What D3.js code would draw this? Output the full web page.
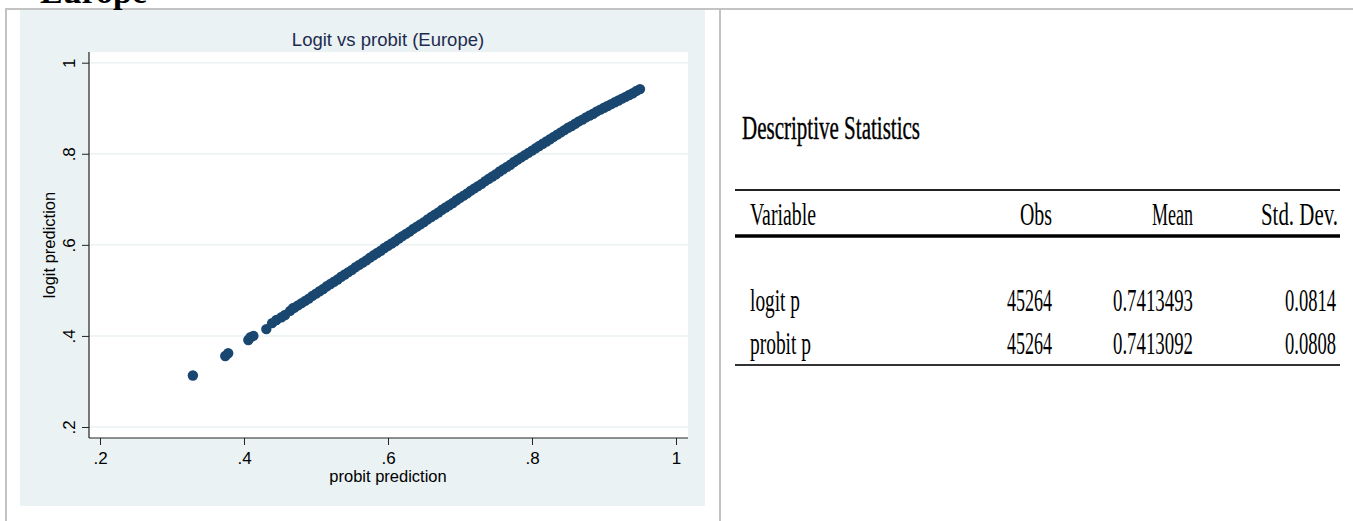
<!DOCTYPE html>
<html>
<head>
<meta charset="utf-8">
<script src="https://cdn.jsdelivr.net/npm/d3@7/dist/d3.min.js"></script>
<style>
  html, body { margin: 0; padding: 0; background: #ffffff; }
  svg { display: block; }
</style>
</head>
<body>
<svg id="chart" width="1353" height="521"></svg>
<script>
// ---------- data ----------
const probitTail = [0.329, 0.374, 0.378, 0.406, 0.409, 0.413, 0.431, 0.439, 0.445, 0.452, 0.457, 0.464, 0.468];
const logitTail  = [0.313, 0.356, 0.362, 0.391, 0.397, 0.400, 0.415, 0.428, 0.435, 0.441, 0.446, 0.455, 0.461];

const probitBand = [
  0.470,0.475,0.480,0.485,0.490,0.495,0.500,0.505,0.510,0.515,
  0.520,0.525,0.530,0.535,0.540,0.545,0.550,0.555,0.560,0.565,
  0.570,0.575,0.580,0.585,0.590,0.595,0.600,0.605,0.610,0.615,
  0.620,0.625,0.630,0.635,0.640,0.645,0.650,0.655,0.660,0.665,
  0.670,0.675,0.680,0.685,0.690,0.695,0.700,0.705,0.710,0.715,
  0.720,0.725,0.730,0.735,0.740,0.745,0.750,0.755,0.760,0.765,
  0.770,0.775,0.780,0.785,0.790,0.795,0.800,0.805,0.810,0.815,
  0.820,0.825,0.830,0.835,0.840,0.845,0.850,0.855,0.860,0.865,
  0.870,0.875,0.880,0.885,0.890,0.895,0.900,0.905,0.910,0.915,
  0.920,0.925,0.930,0.935,0.940,0.945,0.950];
const logitBand = [
  0.462,0.467,0.472,0.477,0.482,0.488,0.493,0.498,0.503,0.509,
  0.514,0.519,0.524,0.530,0.535,0.540,0.545,0.551,0.556,0.561,
  0.566,0.572,0.577,0.582,0.587,0.593,0.598,0.603,0.608,0.614,
  0.619,0.624,0.629,0.635,0.640,0.645,0.650,0.656,0.661,0.666,
  0.671,0.677,0.682,0.687,0.692,0.698,0.703,0.708,0.713,0.719,
  0.724,0.729,0.734,0.740,0.745,0.750,0.755,0.761,0.766,0.771,
  0.776,0.782,0.787,0.792,0.797,0.802,0.807,0.812,0.817,0.822,
  0.827,0.832,0.837,0.842,0.847,0.852,0.857,0.861,0.866,0.871,
  0.875,0.880,0.884,0.888,0.893,0.897,0.901,0.905,0.909,0.913,
  0.917,0.921,0.925,0.929,0.933,0.938,0.942];

const xTicks = [0.2, 0.4, 0.6, 0.8, 1];
const yTicks = [0.2, 0.4, 0.6, 0.8, 1];
const tickLabels = [".2", ".4", ".6", ".8", "1"];

const chartTitle = "Logit vs probit (Europe)";
const xTitle = "probit prediction";
const yTitle = "logit prediction";
const sectionTitle = "Europe";

// descriptive statistics table
const tableTitle = "Descriptive Statistics";
const tableHeaders = ["Variable", "Obs", "Mean", "Std. Dev."];
const tableVariables = ["logit p", "probit p"];
const tableObs = ["45264", "45264"];
const tableMeans = ["0.7413493", "0.7413092"];
const tableSDs = ["0.0814", "0.0808"];

// ---------- drawing ----------
const svg = d3.select("#chart");
const W = 1353, H = 521;

// outer table-cell borders
svg.append("line").attr("x1", 5).attr("x2", W).attr("y1", 9).attr("y2", 9)
  .attr("stroke", "#c3c3c3").attr("stroke-width", 2);
svg.append("line").attr("x1", 6).attr("x2", 6).attr("y1", 9).attr("y2", H)
  .attr("stroke", "#c3c3c3").attr("stroke-width", 2);
svg.append("line").attr("x1", 720).attr("x2", 720).attr("y1", 9).attr("y2", H)
  .attr("stroke", "#c3c3c3").attr("stroke-width", 2);

// clipped section heading
svg.append("text").attr("x", 40).attr("y", 3)
  .attr("font-family", "Liberation Serif, Times New Roman, serif")
  .attr("font-weight", "bold").attr("font-size", 34)
  .attr("fill", "#000").text(sectionTitle);

// graph panel background
svg.append("rect").attr("x", 20).attr("y", 10).attr("width", 685).attr("height", 496)
  .attr("fill", "#eaf2f3");

// plot region
const plot = { left: 89, right: 688, top: 52, bottom: 438 };
svg.append("rect").attr("x", plot.left).attr("y", plot.top)
  .attr("width", plot.right - plot.left).attr("height", plot.bottom - plot.top)
  .attr("fill", "#ffffff");

const x = d3.scaleLinear().domain([0.2, 1]).range([100, 676]);
const y = d3.scaleLinear().domain([0.2, 1]).range([427, 62.7]);

// horizontal grid lines
svg.append("g").selectAll("line").data(yTicks).join("line")
  .attr("x1", plot.left).attr("x2", plot.right)
  .attr("y1", d => y(d)).attr("y2", d => y(d))
  .attr("stroke", "#eaf2f3").attr("stroke-width", 1.5);

const font = "Liberation Sans, Arial, Helvetica, sans-serif";

// y axis
const yAxis = d3.axisLeft(y).tickValues(yTicks).tickSize(7).tickSizeOuter(0)
  .tickFormat((d, i) => tickLabels[i]);
const gy = svg.append("g").attr("transform", `translate(${plot.left},0)`).call(yAxis);
gy.select(".domain").remove();
gy.selectAll(".tick line").attr("stroke", "#222").attr("stroke-width", 1);
gy.selectAll(".tick text")
  .attr("font-family", font).attr("font-size", 17).attr("fill", "#000")
  .attr("x", null).attr("dy", null)
  .attr("text-anchor", "middle")
  .attr("transform", "translate(-14,0) rotate(-90)");
svg.append("line").attr("x1", plot.left).attr("x2", plot.left)
  .attr("y1", plot.top).attr("y2", plot.bottom).attr("stroke", "#222").attr("stroke-width", 1.2);

// x axis
const xAxis = d3.axisBottom(x).tickValues(xTicks).tickSize(7).tickSizeOuter(0)
  .tickFormat((d, i) => tickLabels[i]);
const gx = svg.append("g").attr("transform", `translate(0,${plot.bottom})`).call(xAxis);
gx.select(".domain").remove();
gx.selectAll(".tick line").attr("stroke", "#222").attr("stroke-width", 1);
gx.selectAll(".tick text")
  .attr("font-family", font).attr("font-size", 17).attr("fill", "#000")
  .attr("y", 26).attr("dy", null);
svg.append("line").attr("x1", plot.left).attr("x2", plot.right)
  .attr("y1", plot.bottom).attr("y2", plot.bottom).attr("stroke", "#222").attr("stroke-width", 1.2);

// titles
svg.append("text").attr("x", 388).attr("y", 46).attr("text-anchor", "middle")
  .attr("font-family", font).attr("font-size", 18.5).attr("fill", "#1e2b4f")
  .text(chartTitle);
svg.append("text").attr("x", 388).attr("y", 482).attr("text-anchor", "middle")
  .attr("font-family", font).attr("font-size", 16.5).attr("fill", "#000")
  .text(xTitle);
svg.append("text").attr("transform", `translate(55,245) rotate(-90)`)
  .attr("text-anchor", "middle")
  .attr("font-family", font).attr("font-size", 16.5).attr("fill", "#000")
  .text(yTitle);

// points
const pts = probitTail.map((p, i) => ({ p, l: logitTail[i] }))
  .concat(probitBand.map((p, i) => ({ p, l: logitBand[i] })));
svg.append("g").selectAll("circle").data(pts).join("circle")
  .attr("cx", d => x(d.p)).attr("cy", d => y(d.l)).attr("r", 5.2)
  .attr("fill", "#1a476f");

// ---------- descriptive statistics table ----------
const serif = "Liberation Serif, Times New Roman, serif";
function tx(str, xPos, yPos, size, len, anchor) {
  svg.append("text").attr("x", xPos).attr("y", yPos)
    .attr("font-family", serif).attr("font-size", size).attr("fill", "#000")
    .attr("text-anchor", anchor || "start")
    .attr("textLength", len).attr("lengthAdjust", "spacingAndGlyphs")
    .text(str);
}
// title: slightly heavier
svg.append("text").attr("x", 742).attr("y", 139)
  .attr("font-family", serif).attr("font-size", 34).attr("fill", "#000")
  .attr("stroke", "#000").attr("stroke-width", 0.4)
  .attr("textLength", 178).attr("lengthAdjust", "spacingAndGlyphs")
  .text(tableTitle);

svg.append("line").attr("x1", 735).attr("x2", 1340).attr("y1", 190).attr("y2", 190)
  .attr("stroke", "#222").attr("stroke-width", 2);
svg.append("line").attr("x1", 735).attr("x2", 1340).attr("y1", 236).attr("y2", 236)
  .attr("stroke", "#000").attr("stroke-width", 3.5);
svg.append("line").attr("x1", 735).attr("x2", 1340).attr("y1", 365).attr("y2", 365)
  .attr("stroke", "#333").attr("stroke-width", 2);

const colRight = [null, 1052, 1193, 1338];
const headerLens = [66, 32, 41, 77];
tx(tableHeaders[0], 750, 225, 31, headerLens[0]);
tx(tableHeaders[1], colRight[1], 225, 31, headerLens[1], "end");
tx(tableHeaders[2], colRight[2], 225, 31, headerLens[2], "end");
tx(tableHeaders[3], colRight[3], 225, 31, headerLens[3], "end");

const rowY = [311, 354];
const varLens = [50, 61];
tableVariables.forEach((v, i) => {
  tx(v, 750, rowY[i], 31, varLens[i]);
  tx(tableObs[i], colRight[1], rowY[i], 31, 45, "end");
  tx(tableMeans[i], colRight[2], rowY[i], 31, 80, "end");
  tx(tableSDs[i], 1336, rowY[i], 31, 51, "end");
});
</script>
</body>
</html>
